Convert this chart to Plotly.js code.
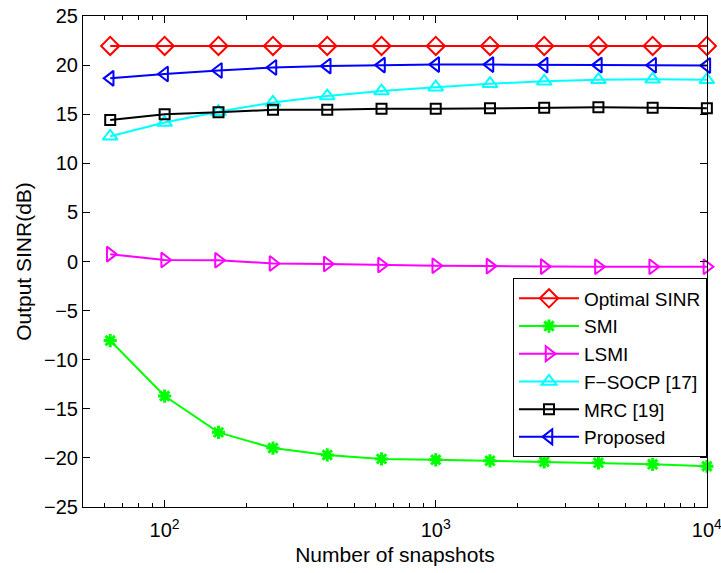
<!DOCTYPE html>
<html>
<head>
<meta charset="utf-8">
<script src="https://cdn.plot.ly/plotly-3.0.1.min.js"></script>
<style>html,body{margin:0;padding:0;background:#fff;}#chart{width:721px;height:573px;}</style>
</head>
<body>
<div id="chart"></div>
<script>
// Data
var snapshots = [63, 100, 158, 251, 398, 631, 1000, 1585, 2512, 3981, 6310, 10000];
var optimalSINR = [21.95, 21.95, 21.95, 21.95, 21.95, 21.95, 21.95, 21.95, 21.95, 21.95, 21.95, 21.95];
var smi = [-8.05, -13.7, -17.4, -19.0, -19.7, -20.1, -20.2, -20.3, -20.4, -20.5, -20.65, -20.85];
var lsmi = [0.75, 0.15, 0.12, -0.2, -0.25, -0.35, -0.43, -0.47, -0.52, -0.53, -0.53, -0.53];
var fsocp = [12.75, 14.15, 15.25, 16.2, 16.85, 17.35, 17.75, 18.1, 18.35, 18.5, 18.55, 18.5];
var mrc = [14.4, 15.0, 15.2, 15.45, 15.45, 15.55, 15.55, 15.6, 15.65, 15.7, 15.65, 15.6];
var proposed = [18.65, 19.1, 19.45, 19.75, 19.9, 20.0, 20.05, 20.05, 20.0, 20.0, 19.98, 19.95];

var seriesNames = ['Optimal SINR', 'SMI', 'LSMI', 'F\u2212SOCP [17]', 'MRC [19]', 'Proposed'];
var seriesValues = [optimalSINR, smi, lsmi, fsocp, mrc, proposed];
var seriesColors = ['#ff0000', '#00ff00', '#ff00ff', '#00ffff', '#000000', '#0000ff'];
var seriesSymbols = ['diamond-open', 'asterisk-open', 'triangle-right-open', 'triangle-up-open', 'square-open', 'triangle-left-open'];
var seriesSizes = [14, 11, 13, 13, 10, 13];

var xTickVals = [100, 1000, 10000];
var xTickText = ['10<sup>2</sup>', '10<sup>3</sup>', '10<sup>4</sup>'];
var xMinorVals = [50, 60, 70, 80, 90, 200, 300, 400, 500, 600, 700, 800, 900, 2000, 3000, 4000, 5000, 6000, 7000, 8000, 9000];
var yTickVals = [-25, -20, -15, -10, -5, 0, 5, 10, 15, 20, 25];
var yTickText = ['\u221225', '\u221220', '\u221215', '\u221210', '\u22125', '0', '5', '10', '15', '20', '25'];

var font = 'Liberation Sans, Arial, Helvetica, sans-serif';

var traces = [];
for (var i = 0; i < seriesNames.length; i++) {
  traces.push({
    x: snapshots,
    y: seriesValues[i],
    type: 'scatter',
    mode: 'lines+markers',
    name: seriesNames[i],
    cliponaxis: false,
    line: {color: seriesColors[i], width: 2},
    marker: {symbol: seriesSymbols[i], size: seriesSizes[i], color: seriesColors[i],
             line: {color: seriesColors[i], width: i === 1 ? 3 : 2}}
  });
}
// invisible trace to carry the minor-tick overlay axis
traces.push({x: [100], y: [0], xaxis: 'x2', yaxis: 'y', mode: 'markers',
  marker: {opacity: 0}, showlegend: false, hoverinfo: 'skip'});

var xr = [Math.log10(50), 4.0005];
var layout = {
  width: 721, height: 573,
  margin: {l: 83, r: 14, t: 16, b: 66},
  paper_bgcolor: '#ffffff', plot_bgcolor: '#ffffff',
  font: {family: font, size: 19, color: '#000'},
  showlegend: true,
  xaxis: {
    type: 'log', range: xr,
    tickmode: 'array', tickvals: xTickVals, ticktext: xTickText,
    ticks: 'inside', ticklen: 7, tickwidth: 1, tickcolor: '#000',
    showline: true, linecolor: '#000', linewidth: 1, mirror: 'ticks',
    showgrid: false, zeroline: false, ticklabelstandoff: 5,
    ticklabeloverflow: 'allow',
    tickfont: {size: 20, family: font},
    title: {text: 'Number of snapshots', font: {size: 21, family: font}, standoff: 7}
  },
  xaxis2: {
    type: 'log', range: xr, overlaying: 'x', anchor: 'y',
    tickmode: 'array', tickvals: xMinorVals, showticklabels: false,
    ticks: 'inside', ticklen: 4, tickwidth: 1, tickcolor: '#000',
    showline: false, mirror: 'ticks', showgrid: false, zeroline: false
  },
  yaxis: {
    range: [-25, 25],
    tickmode: 'array', tickvals: yTickVals, ticktext: yTickText,
    ticks: 'inside', ticklen: 7, tickwidth: 1, tickcolor: '#000',
    showline: true, linecolor: '#000', linewidth: 1, mirror: 'ticks',
    showgrid: false, zeroline: false,
    tickfont: {size: 20, family: font},
    title: {text: 'Output SINR(dB)', font: {size: 21, family: font}, standoff: 6}
  },
  legend: {
    x: 1, xanchor: 'right', y: 0.4654, yanchor: 'top',
    bgcolor: '#ffffff', bordercolor: '#000', borderwidth: 1,
    font: {size: 19, family: font}, tracegroupgap: 0, itemwidth: 60
  }
};

Plotly.newPlot('chart', traces, layout, {displayModeBar: false, staticPlot: true});
</script>
</body>
</html>
